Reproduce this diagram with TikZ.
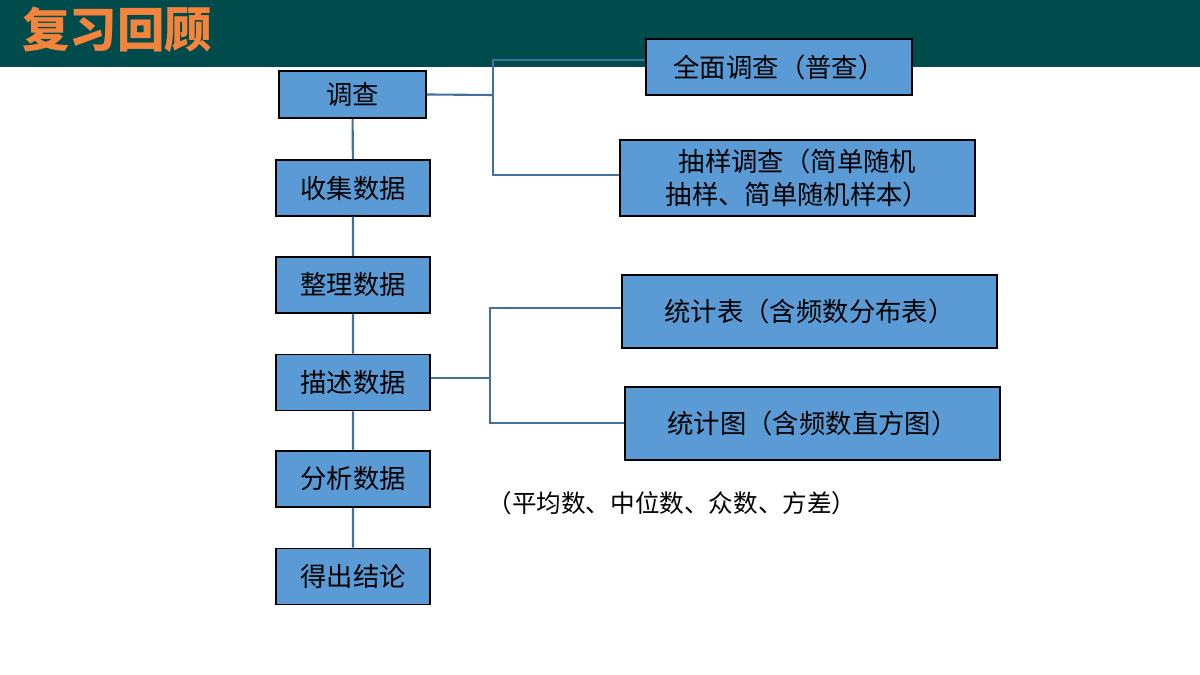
\documentclass[tikz,border=0pt]{standalone}
\usepackage{fontspec}
\newfontfamily\cjk{Noto Sans CJK SC}
\usetikzlibrary{positioning}
\definecolor{bar}{HTML}{004B4B}
\definecolor{boxblue}{HTML}{5B9BD5}
\definecolor{linkblue}{HTML}{41719C}
\definecolor{titleorange}{HTML}{F4843C}
\tikzstyle{entry}=[draw=black, line width=1pt, fill=boxblue, inner sep=2pt, align=center, font=\cjk\fontsize{15}{19}\selectfont]
\tikzstyle{stage}=[entry, minimum width=3.08cm, minimum height=1.12cm]
\tikzstyle{kind}=[entry, minimum height=1.12cm]
\tikzstyle{link}=[draw=linkblue, line width=1.2pt]

\begin{document}
\begin{tikzpicture}[x=0.02cm, y=-0.02cm]
\useasboundingbox (0,0) rectangle (1200,675);
\fill[bar] (0,0) rectangle (1200,67);
\node (title) [anchor=west, text=titleorange, font=\cjk\bfseries\fontsize{27}{30}\selectfont] at (16,30) {复习回顾};

\node (survey) [stage, minimum width=2.94cm, minimum height=0.94cm] at (352.5,94.5) {调查};
\node (collect) [stage] at (353,188) {收集数据};
\node (sort) [stage] at (353,285) {整理数据};
\node (describe) [stage] at (353,382.5) {描述数据};
\node (analyse) [stage] at (353,479) {分析数据};
\node (conclude) [stage] at (353,576.5) {得出结论};

\node (census) [kind, minimum width=5.32cm] at (779,67) {全面调查（普查）};
\node (sample) [kind, minimum width=7.1cm, minimum height=1.52cm] at (797.5,178) {抽样调查（简单随机\\抽样、简单随机样本）};
\node (table) [kind, minimum width=7.5cm, minimum height=1.46cm] at (809.5,311.5) {统计表（含频数分布表）};
\node (chart) [kind, minimum width=7.5cm, minimum height=1.46cm] at (812.5,423.5) {统计图（含频数直方图）};
\node (measures) [font=\cjk\fontsize{14}{17}\selectfont] at (672,503) {（平均数、中位数、众数、方差）};

\draw [link] (survey) -- (collect) -- (sort) -- (describe) -- (analyse) -- (conclude);
\coordinate (fork1) at (493,95);
\coordinate (fork2) at (490,378);
\draw [link] (survey.east) -- (fork1);
\draw [link] (census.west |- 0,60) -| (fork1) |- (sample.west |- 0,175);
\draw [link] (describe.east |- fork2) -- (fork2);
\draw [link] (table.west |- 0,308) -| (fork2) |- (chart.west |- 0,423);
\end{tikzpicture}
\end{document}
